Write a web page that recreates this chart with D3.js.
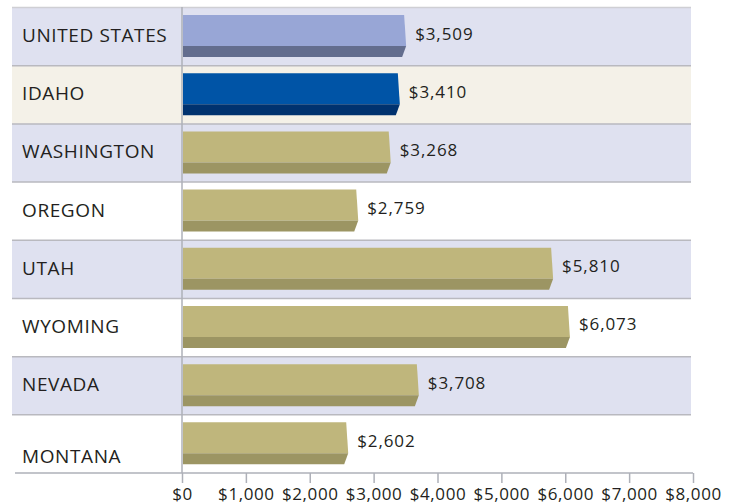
<!DOCTYPE html>
<html>
<head>
<meta charset="utf-8">
<script src="https://cdn.jsdelivr.net/npm/d3@7"></script>
<style>
  body { margin: 0; background: #fff; }
  text { font-family: "Open Sans", sans-serif; fill: #231f20; }
</style>
</head>
<body>
<svg id="chart" width="732" height="504"></svg>
<script>
// data
var states = ["UNITED STATES", "IDAHO", "WASHINGTON", "OREGON", "UTAH", "WYOMING", "NEVADA", "MONTANA"];
var spending = [3509, 3410, 3268, 2759, 5810, 6073, 3708, 2602];
var tickValues = [0, 1000, 2000, 3000, 4000, 5000, 6000, 7000, 8000];

var rowFills = ["#dfe1f0", "#f4f1e8", "#dfe1f0", "#ffffff", "#dfe1f0", "#ffffff", "#dfe1f0", "#ffffff"];
var barColors = { "UNITED STATES": ["#98a6d6", "#636d8e"], "IDAHO": ["#0054a6", "#00326f"] };
var defaultBar = ["#bfb67c", "#9c9563"];

var data = states.map(function (s, i) { return { state: s, value: spending[i], i: i }; });

var svg = d3.select("#chart");

var x = d3.scaleLinear().domain([0, 8000]).range([182, 693]);
var y = d3.scaleBand().domain(states).range([7.5, 473]);

// row bands
svg.append("g").selectAll("rect")
  .data(data).enter().append("rect")
  .attr("x", 12)
  .attr("y", function (d) { return y(d.state); })
  .attr("width", 679)
  .attr("height", y.bandwidth())
  .attr("fill", function (d) { return rowFills[d.i]; });

// row separators
svg.append("g").selectAll("line")
  .data(data.slice(1)).enter().append("line")
  .attr("x1", 12).attr("x2", 691)
  .attr("y1", function (d) { return y(d.state); })
  .attr("y2", function (d) { return y(d.state); })
  .attr("stroke", "#b9b9bf").attr("stroke-width", 1.5);

svg.append("line")
  .attr("x1", 12).attr("x2", 691)
  .attr("y1", 7.5).attr("y2", 7.5)
  .attr("stroke", "#cfcfd4").attr("stroke-width", 1.5);

// vertical axis line
svg.append("line")
  .attr("x1", x(0)).attr("x2", x(0))
  .attr("y1", 7).attr("y2", 473)
  .attr("stroke", "#aeb0b8").attr("stroke-width", 1.5);

// bars (3D look: light face + darker bottom strip)
var bars = svg.append("g").selectAll("g")
  .data(data).enter().append("g")
  .attr("transform", function (d) { return "translate(0," + (y(d.state) + 7.5) + ")"; });

bars.append("path")
  .attr("d", function (d) {
    var x0 = x(0) + 1, x1 = x(d.value);
    return "M" + x0 + ",0L" + (x1 - 2) + ",0L" + x1 + ",31L" + x0 + ",31Z";
  })
  .attr("fill", function (d) { return (barColors[d.state] || defaultBar)[0]; });

bars.append("path")
  .attr("d", function (d) {
    var x0 = x(0) + 1, x1 = x(d.value);
    return "M" + x0 + ",31L" + x1 + ",31L" + (x1 - 4) + ",42L" + x0 + ",42Z";
  })
  .attr("fill", function (d) { return (barColors[d.state] || defaultBar)[1]; });

// value labels
bars.append("text")
  .attr("x", function (d) { return x(d.value) + 9; })
  .attr("y", 24.5)
  .attr("font-size", 17)
  .attr("letter-spacing", 0.9)
  .text(function (d) { return d3.format("$,")(d.value); });

// category labels (last one sits low in its row)
svg.append("g").selectAll("text")
  .data(data).enter().append("text")
  .attr("x", 22)
  .attr("y", function (d) { return y(d.state) + (d.i === states.length - 1 ? 48.5 : 34.5); })
  .attr("font-size", 19)
  .attr("letter-spacing", 0.6)
  .text(function (d) { return d.state; });

// bottom axis
var axis = svg.append("g")
  .attr("transform", "translate(0,473)")
  .call(d3.axisBottom(x).tickValues(tickValues).tickFormat(d3.format("$,")).tickSize(10).tickPadding(5));
axis.select(".domain").attr("d", "M15,0H693").attr("stroke", "#aeb0b8").attr("stroke-width", 1.5);
axis.selectAll(".tick line").attr("stroke", "#aeb0b8").attr("stroke-width", 1.5);
axis.selectAll(".tick text")
  .attr("font-size", 17)
  .attr("letter-spacing", 0.6)
  .attr("font-family", "Open Sans, sans-serif")
  .attr("fill", "#231f20");
</script>
</body>
</html>
